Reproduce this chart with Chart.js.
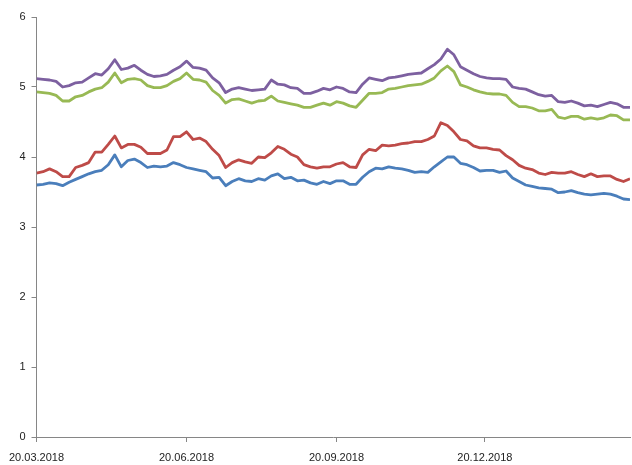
<!DOCTYPE html>
<html>
<head>
<meta charset="utf-8">
<script src="https://cdn.jsdelivr.net/npm/chart.js@4/dist/chart.umd.min.js"></script>
<style>
    body { margin: 0; background: #fff; }
    #wrap { width: 632px; height: 465px; position: relative; }
</style>
</head>
<body>
<div id="wrap"><canvas id="myChart"></canvas></div>
<script>
// days since 20.03.2018, one reading every 4 days
const dayOffsets = [
    0, 4, 8, 12, 16, 20, 24, 28, 32, 36,
    40, 44, 48, 52, 56, 60, 64, 68, 72, 76,
    80, 84, 88, 92, 96, 100, 104, 108, 112, 116,
    120, 124, 128, 132, 136, 140, 144, 148, 152, 156,
    160, 164, 168, 172, 176, 180, 184, 188, 192, 196,
    200, 204, 208, 212, 216, 220, 224, 228, 232, 236,
    240, 244, 248, 252, 256, 260, 264, 268, 272, 276,
    280, 284, 288, 292, 296, 300, 304, 308, 312, 316,
    320, 324, 328, 332, 336, 340, 344, 348, 352, 356,
    360, 364
]

const tickDays = [0, 92, 184, 275]
const tickLabels = ['20.03.2018', '20.06.2018', '20.09.2018', '20.12.2018']

const seriesBlue = [
    3.60, 3.61, 3.63, 3.62, 3.59, 3.64, 3.68, 3.72, 3.76, 3.79,
    3.81, 3.89, 4.03, 3.86, 3.95, 3.97, 3.92, 3.85, 3.87, 3.86,
    3.87, 3.92, 3.89, 3.85, 3.83, 3.81, 3.79, 3.70, 3.71, 3.59,
    3.65, 3.69, 3.66, 3.65, 3.69, 3.67, 3.73, 3.76, 3.69, 3.71,
    3.66, 3.67, 3.63, 3.61, 3.65, 3.62, 3.66, 3.66, 3.61, 3.61,
    3.71, 3.79, 3.84, 3.83, 3.86, 3.84, 3.83, 3.81, 3.78, 3.79,
    3.78, 3.86, 3.93, 4.00, 4.00, 3.91, 3.89, 3.85, 3.80, 3.81,
    3.81, 3.78, 3.80, 3.70, 3.65, 3.60, 3.58, 3.56, 3.55, 3.54,
    3.49, 3.50, 3.52, 3.49, 3.47, 3.46, 3.47, 3.48, 3.47, 3.44,
    3.40, 3.39
]

const seriesRed = [
    3.77, 3.79, 3.83, 3.79, 3.72, 3.72, 3.85, 3.88, 3.92, 4.07,
    4.07, 4.18, 4.30, 4.13, 4.18, 4.18, 4.14, 4.05, 4.05, 4.05,
    4.10, 4.29, 4.29, 4.36, 4.25, 4.27, 4.22, 4.11, 4.02, 3.85,
    3.92, 3.96, 3.93, 3.91, 4.00, 3.99, 4.06, 4.15, 4.11, 4.04,
    4.00, 3.89, 3.86, 3.84, 3.86, 3.86, 3.90, 3.92, 3.86, 3.85,
    4.03, 4.11, 4.09, 4.17, 4.16, 4.17, 4.19, 4.20, 4.22, 4.22,
    4.25, 4.30, 4.49, 4.45, 4.36, 4.25, 4.23, 4.16, 4.13, 4.13,
    4.11, 4.10, 4.02, 3.96, 3.88, 3.84, 3.82, 3.77, 3.75, 3.78,
    3.77, 3.77, 3.79, 3.75, 3.72, 3.76, 3.72, 3.73, 3.73, 3.68,
    3.65, 3.69
]

const seriesGreen = [
    4.93, 4.92, 4.91, 4.88, 4.80, 4.80, 4.86, 4.88, 4.93, 4.97,
    4.99, 5.07, 5.20, 5.06, 5.11, 5.12, 5.10, 5.02, 4.99, 4.99,
    5.02, 5.08, 5.12, 5.20, 5.11, 5.10, 5.07, 4.95, 4.88, 4.77,
    4.82, 4.83, 4.80, 4.77, 4.80, 4.81, 4.87, 4.80, 4.78, 4.76,
    4.74, 4.71, 4.71, 4.74, 4.77, 4.74, 4.79, 4.77, 4.73, 4.71,
    4.81, 4.91, 4.91, 4.92, 4.97, 4.98, 5.00, 5.02, 5.03, 5.04,
    5.08, 5.13, 5.23, 5.30, 5.22, 5.03, 5.00, 4.96, 4.93, 4.91,
    4.90, 4.90, 4.88, 4.78, 4.72, 4.72, 4.70, 4.66, 4.66, 4.68,
    4.57, 4.55, 4.58, 4.58, 4.54, 4.56, 4.54, 4.56, 4.60, 4.59,
    4.53, 4.53
]

const seriesPurple = [
    5.12, 5.11, 5.10, 5.08, 5.00, 5.02, 5.06, 5.07, 5.13, 5.19,
    5.17, 5.26, 5.39, 5.25, 5.27, 5.31, 5.24, 5.18, 5.15, 5.16,
    5.18, 5.24, 5.29, 5.37, 5.28, 5.27, 5.24, 5.13, 5.06, 4.92,
    4.97, 4.99, 4.97, 4.95, 4.96, 4.97, 5.10, 5.04, 5.03, 4.99,
    4.98, 4.91, 4.91, 4.94, 4.98, 4.96, 5.00, 4.98, 4.93, 4.92,
    5.04, 5.13, 5.11, 5.09, 5.13, 5.14, 5.16, 5.18, 5.19, 5.20,
    5.26, 5.32, 5.40, 5.54, 5.46, 5.29, 5.24, 5.19, 5.15, 5.13,
    5.12, 5.12, 5.11, 5.00, 4.98, 4.97, 4.93, 4.89, 4.87, 4.88,
    4.79, 4.78, 4.80, 4.77, 4.73, 4.74, 4.72, 4.75, 4.78, 4.76,
    4.71, 4.71
]

function toPoints(values) {
    return dayOffsets.map((d, i) => ({ x: d, y: values[i] }))
}

const axisColor = '#868686'

const dataSets = [
    { label: 'Series 1', data: toPoints(seriesBlue), borderColor: '#4a7ebb' },
    { label: 'Series 2', data: toPoints(seriesRed), borderColor: '#be4b48' },
    { label: 'Series 3', data: toPoints(seriesGreen), borderColor: '#98b954' },
    { label: 'Series 4', data: toPoints(seriesPurple), borderColor: '#7d60a0' }
].map(ds => Object.assign(ds, {
    fill: false,
    borderWidth: 2.8,
    pointRadius: 0,
    tension: 0,
    borderJoinStyle: 'round'
}))

const ctx = document.getElementById('myChart')
new Chart(ctx, {
    type: 'line',
    data: { datasets: dataSets },
    options: {
        responsive: true,
        maintainAspectRatio: false,
        animation: false,
        layout: { padding: { top: 17, right: 2, left: 0, bottom: 0 } },
        scales: {
            x: {
                type: 'linear',
                min: 0,
                max: 364,
                afterBuildTicks: axis => {
                    axis.ticks = tickDays.map(v => ({ value: v }))
                },
                afterFit: axis => { axis.height = 28 },
                grid: { drawOnChartArea: false, drawTicks: true, tickLength: 5, color: axisColor },
                border: { display: true, color: axisColor },
                ticks: {
                    autoSkip: false,
                    maxRotation: 0,
                    padding: 9,
                    color: '#222',
                    font: { family: 'Liberation Sans, Arial, sans-serif', size: 11 },
                    callback: value => tickLabels[tickDays.indexOf(value)]
                }
            },
            y: {
                min: 0,
                max: 6,
                afterFit: axis => { axis.width = 36 },
                grid: { drawOnChartArea: false, drawTicks: true, tickLength: 5, color: axisColor },
                border: { display: true, color: axisColor },
                ticks: {
                    stepSize: 1,
                    padding: 6,
                    color: '#222',
                    font: { family: 'Liberation Sans, Arial, sans-serif', size: 11 }
                }
            }
        },
        plugins: {
            legend: { display: false },
            tooltip: { enabled: false }
        }
    }
})
</script>
</body>
</html>
